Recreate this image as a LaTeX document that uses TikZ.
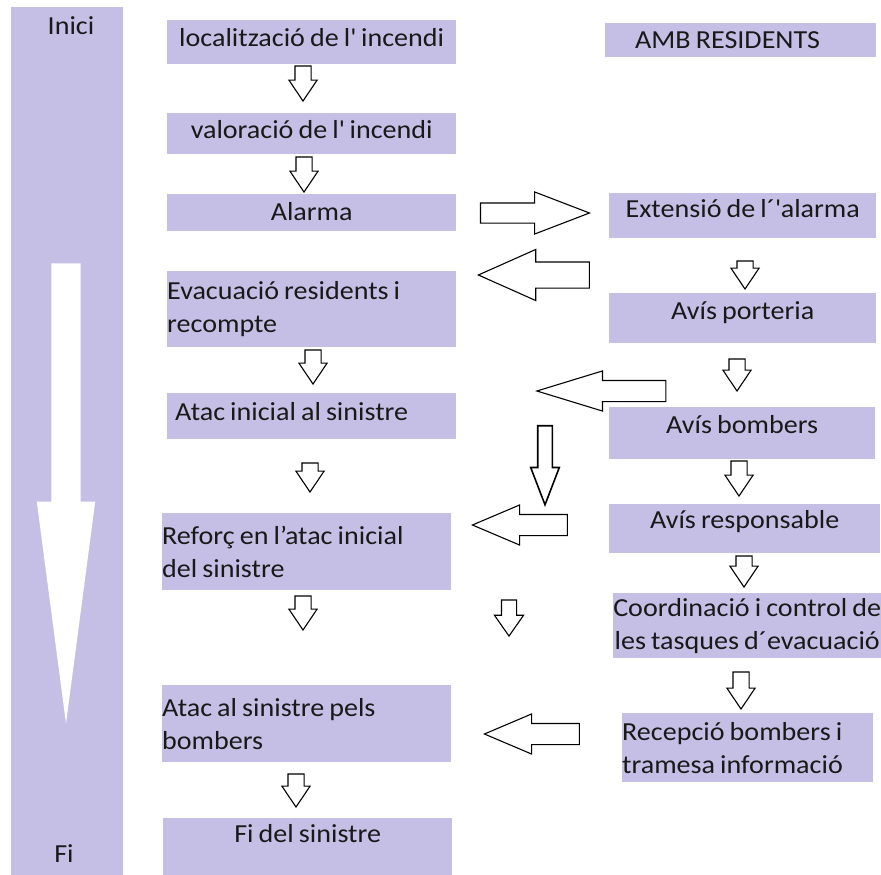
\documentclass[tikz,border=0pt]{standalone}
\usepackage{fontspec}
\setmainfont{Carlito}[FakeStretch=1.08, WordSpace=0.8]
\usetikzlibrary{shapes.arrows}
\definecolor{lilac}{RGB}{198,191,229}

\begin{document}
\begin{tikzpicture}[
		x=1pt, y=-1pt,
		every node/.style={font=\fontsize{26}{33}\selectfont, text=black!90},
		stage/.style={fill=lilac, inner sep=0pt, anchor=north west},
		fatarrow/.style={single arrow, draw, fill=white, line width=1.1pt, anchor=tip},
		smalldown/.style={fatarrow, shape border rotate=270, inner sep=7.5pt, minimum width=27pt, single arrow head extend=6pt, single arrow tip angle=68},
		sideleft/.style={fatarrow, shape border rotate=180, inner sep=10pt, minimum width=39pt, single arrow head extend=9.5pt, single arrow tip angle=46}
		]
		\useasboundingbox (0,0) rectangle (881,875);
		
		% Time bar
		\node[stage, minimum width=112pt, minimum height=868pt] (bar) at (11,7) {};
		\node[single arrow, fill=white, shape border rotate=270, inner sep=14.5pt, anchor=tip, minimum height=460pt, minimum width=58pt, single arrow head extend=14.5pt, single arrow tip angle=15] (flow) at (66,725) {};
		\node[anchor=base] (inici) at (71,35) {Inici};
		\node[anchor=base] (fi) at (64,862) {Fi};
		
		% Main column
		\node[stage, minimum width=289pt, text height=26pt, text depth=18pt] (loc) at (167,20) {localització de l\textquotesingle{} incendi};
		\node[stage, minimum width=289pt, text height=25pt, text depth=16pt] (val) at (167,113) {valoració de l\textquotesingle{} incendi};
		\node[stage, minimum width=289pt, text height=26pt, text depth=11pt] (alarm) at (167,194) {Alarma};
		\node[stage, text width=289pt, minimum height=76pt, align=flush left] (evac) at (167,271) {Evacuació residents i\\recompte};
		\node[stage, inner xsep=8pt, text width=273pt, align=flush left, text height=27pt, text depth=19pt] (atac) at (167,393) {Atac inicial al sinistre};
		\node[stage, text width=289pt, minimum height=77pt, align=flush left] (reforc) at (162,513) {Reforç en l’atac inicial\\del sinistre};
		\node[stage, text width=289pt, minimum height=77pt, align=flush left] (bombatac) at (162,685) {Atac al sinistre pels\\bombers};
		\node[stage, minimum width=289pt, text height=24pt, text depth=33pt] (end) at (163,818) {Fi del sinistre};
		
		% Residents column
		\node[stage, inner xsep=30pt, text width=211pt, align=flush left, text height=25pt, text depth=9pt] (amb) at (605,23) {AMB RESIDENTS};
		\node[stage, minimum width=267pt, text height=24pt, text depth=21pt] (ext) at (609,193) {Extensió de l´\textquotesingle{}alarma};
		\node[stage, minimum width=267pt, text height=26pt, text depth=24pt] (port) at (609,293) {Avís porteria};
		\node[stage, minimum width=266pt, text height=26pt, text depth=26pt] (bomb) at (609,407) {Avís bombers};
		\node[stage, minimum width=271pt, text height=24pt, text depth=25pt] (resp) at (609,504) {Avís responsable};
		\node[stage, minimum width=268pt, minimum height=65pt, align=flush center] (coord) at (613,593) {Coordinació i control de\\les tasques d´evacuació};
		\node[stage, text width=251pt, minimum height=69pt, align=flush left] (recep) at (622,713) {Recepció bombers i\\tramesa informació};
		
		% Down arrows, main column
		\node[smalldown, minimum height=35pt] (a1) at (303,102) {};
		\node[smalldown, minimum height=35pt] (a2) at (304,193) {};
		\node[smalldown, minimum height=34pt] (a3) at (313,385) {};
		\node[smalldown, minimum height=29pt] (a4) at (310,493) {};
		\node[smalldown, minimum height=34pt] (a5) at (303,631) {};
		\node[smalldown, minimum height=33pt] (a6) at (296,808) {};
		
		% Down arrows, residents column
		\node[smalldown, minimum height=28pt] (b1) at (745,290) {};
		\node[smalldown, minimum height=32pt] (b2) at (737,392) {};
		\node[smalldown, minimum height=35pt] (b3) at (739,497) {};
		\node[smalldown, minimum height=31pt] (b4) at (744,588) {};
		\node[smalldown, minimum height=37pt] (b5) at (741,710) {};
		
		% Arrows between columns
		\node[fatarrow, shape border rotate=0, inner sep=9.5pt, minimum height=109pt, minimum width=41pt, single arrow head extend=11pt, single arrow tip angle=42] (r1) at (591,213) {};
		\node[sideleft, inner sep=12.5pt, minimum height=111pt, minimum width=50pt, single arrow head extend=12.5pt, single arrow tip angle=48] (l1) at (477,275) {};
		\node[sideleft, minimum height=129pt, single arrow tip angle=34] (l2) at (535,391) {};
		\node[smalldown, line width=1.6pt, inner sep=6.5pt, minimum height=79pt, single arrow head extend=7pt, single arrow tip angle=42] (d1) at (545,507) {};
		\node[sideleft, minimum height=95pt] (l3) at (471,525) {};
		\node[smalldown, inner sep=7pt, minimum height=36pt, minimum width=28pt, single arrow head extend=7pt, single arrow tip angle=70] (d2) at (509,637) {};
		\node[sideleft, minimum height=95pt] (l4) at (483,734) {};
		
	\end{tikzpicture}
\end{document}
